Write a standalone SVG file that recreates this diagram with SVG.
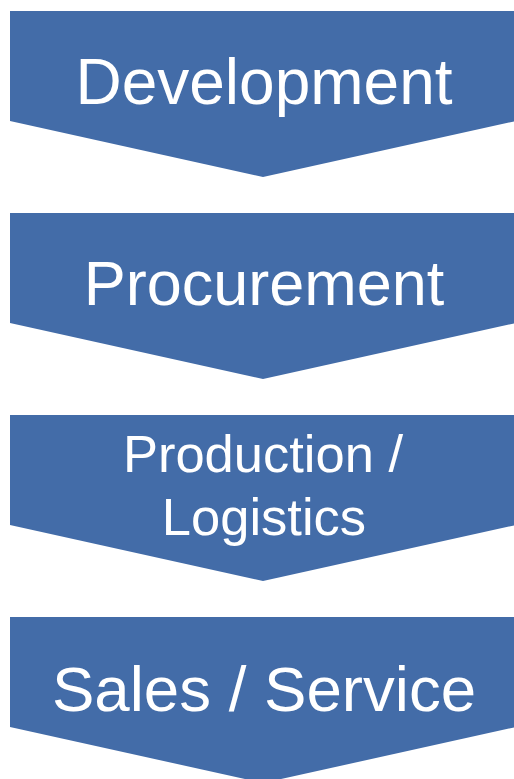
<svg xmlns="http://www.w3.org/2000/svg" width="514" height="779" viewBox="0 0 514 779">
  <style>
    .stage { fill: #436CA8; }
    .label { fill: #FFFFFF; font-family: "Liberation Sans", Arial, sans-serif; text-anchor: middle; }
  </style>
  <defs>
    <!-- Downward chevron: body 110 high, point 56 below -->
    <polygon id="chevron" points="10,0 516,0 516,110 263,166 10,110"/>
  </defs>
  <rect width="514" height="779" fill="#FFFFFF"/>
  <g id="connectors"/>
  <g id="development">
    <use href="#chevron" class="stage" transform="translate(0,11)"/>
    <text class="label" x="264" y="104" font-size="64">Development</text>
  </g>
  <g id="procurement">
    <use href="#chevron" class="stage" transform="translate(0,213)"/>
    <text class="label" x="264" y="305" font-size="63">Procurement</text>
  </g>
  <g id="production-logistics">
    <use href="#chevron" class="stage" transform="translate(0,415)"/>
    <!-- tspans kept adjacent so no stray space joins the first line -->
    <text class="label" font-size="52.5"><tspan x="263" y="472">Production /</tspan><tspan x="264" y="535">Logistics</tspan></text>
  </g>
  <g id="sales-service">
    <use href="#chevron" class="stage" transform="translate(0,617)"/>
    <text class="label" x="264" y="711" font-size="63.6">Sales / Service</text>
  </g>
</svg>
